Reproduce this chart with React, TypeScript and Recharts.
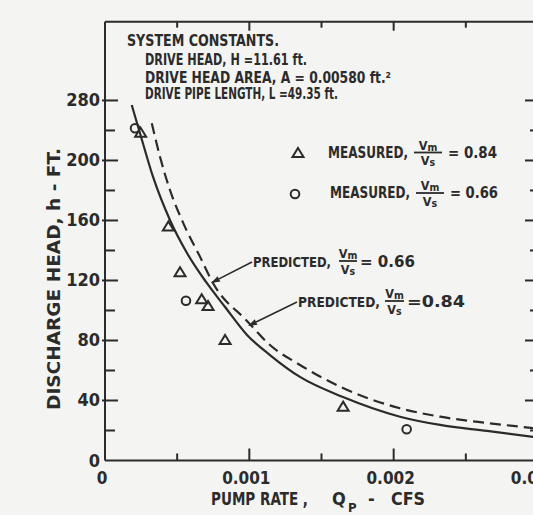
import React from "react";
import { ComposedChart, Line, Scatter, XAxis, YAxis } from "recharts";

// pump rate (cfs) and discharge head (ft)
const X_TICKS = [0, 0.0005, 0.001, 0.0015, 0.002, 0.0025, 0.003];
const X_TICK_LABELS = ["0", "", "0.001", "", "0.002", "", "0.003"];
const Y_TICKS = [0, 20, 40, 60, 80, 100, 120, 140, 160, 180, 200, 220, 240];
// the original figure prints "280" on the top major tick
const Y_TICK_LABELS = ["0", "", "40", "", "80", "", "120", "", "160", "", "200", "", "280"];

const SOLID_Q = [0.000185, 0.000243, 0.000333, 0.00045, 0.000568, 0.0007, 0.000832, 0.000984, 0.001143, 0.001351, 0.001649, 0.002044, 0.002322, 0.002647, 0.003];
const SOLID_H = [237, 218, 189, 160.3, 138.3, 119, 102.3, 83.7, 70.3, 55.7, 42.3, 29.2, 23.7, 19.7, 15.3];

const DASHED_Q = [0.000324, 0.000381, 0.00045, 0.000543, 0.000658, 0.00075, 0.000984, 0.001143, 0.001351, 0.001649, 0.002044, 0.002322, 0.002647, 0.003];
const DASHED_H = [224.8, 202.5, 180.3, 158.1, 135.9, 118, 93, 77, 63.7, 48.3, 34.8, 29.2, 25, 21.3];

const TRI_Q = [0.000247, 0.000439, 0.00052, 0.00067, 0.000714, 0.000832, 0.00165];
const TRI_H = [218.5, 156, 125.5, 107.5, 103, 80.3, 35.9];

const CIRC_Q = [0.000208, 0.000561, 0.00209];
const CIRC_H = [221.5, 106.5, 20.8];

const zip = (q: number[], h: number[]) => q.map((v, i) => ({ q: v, h: h[i] }));
const solidData = zip(SOLID_Q, SOLID_H);
const dashedData = zip(DASHED_Q, DASHED_H);
const triData = zip(TRI_Q, TRI_H);
const circData = zip(CIRC_Q, CIRC_H);

const INK = "#2b2b2b";
const FONT = "'DejaVu Sans Condensed', 'DejaVu Sans', sans-serif";

function BottomTick({ x, y, payload }: any) {
  const i = X_TICKS.indexOf(payload.value);
  const label = X_TICK_LABELS[i];
  const len = label ? 12 : 7;
  return (
    <g>
      {i > 0 && <line x1={x} x2={x} y1={y} y2={y - len} stroke={INK} strokeWidth={2} />}
      {label && (
        <text x={x - 3} y={y + 23} textAnchor="middle" fontSize={17} fontWeight="bold" fill={INK} fontFamily={FONT}>
          {label}
        </text>
      )}
    </g>
  );
}

function TopTick({ x, y, payload }: any) {
  const i = X_TICKS.indexOf(payload.value);
  if (i <= 0) return null;
  const len = X_TICK_LABELS[i] ? 9 : 6;
  return <line x1={x} x2={x} y1={y} y2={y + len} stroke={INK} strokeWidth={2} />;
}

function LeftTick({ x, y, payload }: any) {
  const i = Y_TICKS.indexOf(payload.value);
  const label = Y_TICK_LABELS[i];
  return (
    <g>
      {i > 0 && (label
        ? <line x1={x - 3} x2={x + 13} y1={y} y2={y} stroke={INK} strokeWidth={2} />
        : <line x1={x} x2={x + 10} y1={y} y2={y} stroke={INK} strokeWidth={2} />)}
      {label && (
        <text x={x - 5} y={y + 6} textAnchor="end" fontSize={18} fontWeight="bold" fill={INK} fontFamily={FONT}>
          {label}
        </text>
      )}
    </g>
  );
}

function RightTick({ x, y, payload }: any) {
  const i = Y_TICKS.indexOf(payload.value);
  if (i <= 0) return null;
  const len = Y_TICK_LABELS[i] ? 13 : 8;
  return <line x1={x} x2={x - len} y1={y} y2={y} stroke={INK} strokeWidth={2} />;
}

const triangleShape = ({ cx, cy }: any) => (
  <path d={`M${cx},${cy - 5} L${cx + 5.5},${cy + 4} L${cx - 5.5},${cy + 4} Z`} fill="none" stroke={INK} strokeWidth={2} />
);
const circleShape = ({ cx, cy }: any) => (
  <circle cx={cx} cy={cy} r={4.3} fill="none" stroke={INK} strokeWidth={2} />
);

function Fraction({ x, y, w, top, bottom }: { x: number; y: number; w: number; top: string; bottom: string }) {
  const cx = x + w / 2;
  return (
    <g fontFamily={FONT} fill={INK} fontWeight="bold">
      <text x={cx} y={y - 3} textAnchor="middle" fontSize={12.5}>
        V<tspan fontSize={10.5} dy={1}>{top}</tspan>
      </text>
      <line x1={x} x2={x + w} y1={y} y2={y} stroke={INK} strokeWidth={1.8} />
      <text x={cx} y={y + 12.5} textAnchor="middle" fontSize={12.5}>
        V<tspan fontSize={10.5} dy={1}>{bottom}</tspan>
      </text>
    </g>
  );
}

function Arrow({ x1, y1, x2, y2 }: { x1: number; y1: number; x2: number; y2: number }) {
  const a = Math.atan2(y2 - y1, x2 - x1);
  const L = 9;
  const W = 3;
  const bx = x2 - L * Math.cos(a);
  const by = y2 - L * Math.sin(a);
  const px = -Math.sin(a) * W;
  const py = Math.cos(a) * W;
  return (
    <g>
      <line x1={x1} y1={y1} x2={bx} y2={by} stroke={INK} strokeWidth={1.6} />
      <path d={`M${x2},${y2} L${bx + px},${by + py} L${bx - px},${by - py} Z`} fill={INK} />
    </g>
  );
}

function Overlay() {
  const txt = { fontFamily: FONT, fill: INK, fontWeight: "bold" as const };
  return (
    <svg width={533} height={515} style={{ position: "absolute", left: 0, top: 0, pointerEvents: "none" }}>
      <g {...txt} fontSize={15}>
        <text x={127} y={45.7} textLength={152} lengthAdjust="spacingAndGlyphs">SYSTEM CONSTANTS.</text>
        <text x={145} y={65} textLength={162} lengthAdjust="spacingAndGlyphs">DRIVE HEAD,  H =11.61 ft.</text>
        <text x={145} y={82.7} textLength={246} lengthAdjust="spacingAndGlyphs">DRIVE HEAD AREA, A = 0.00580 ft.²</text>
        <text x={145} y={99.3} textLength={193} lengthAdjust="spacingAndGlyphs">DRIVE PIPE LENGTH,  L =49.35 ft.</text>
      </g>

      <g {...txt} fontSize={15}>
        <path d="M298,148 L303.5,157 L292.5,157 Z" fill="none" stroke={INK} strokeWidth={2} />
        <text x={328} y={157.5} textLength={80} lengthAdjust="spacingAndGlyphs">MEASURED,</text>
        <text x={448} y={157.5} textLength={49} lengthAdjust="spacingAndGlyphs">= 0.84</text>
        <circle cx={295} cy={194} r={4.3} fill="none" stroke={INK} strokeWidth={2} />
        <text x={330} y={198.3} textLength={80} lengthAdjust="spacingAndGlyphs">MEASURED,</text>
        <text x={450} y={198.3} textLength={48} lengthAdjust="spacingAndGlyphs">= 0.66</text>

        <text x={253} y={266.7} fontSize={14} textLength={78} lengthAdjust="spacingAndGlyphs">PREDICTED,</text>
        <text x={360} y={266.7} textLength={55} lengthAdjust="spacingAndGlyphs">= 0.66</text>
        <text x={298} y={306.7} fontSize={14} textLength={82} lengthAdjust="spacingAndGlyphs">PREDICTED,</text>
        <text x={407} y={306.7} textLength={58} lengthAdjust="spacingAndGlyphs">=0.84</text>
      </g>
      <Fraction x={414} y={152.5} w={28} top="m" bottom="s" />
      <Fraction x={416} y={193} w={28} top="m" bottom="s" />
      <Fraction x={339} y={261} w={18} top="m" bottom="s" />
      <Fraction x={385} y={301} w={19} top="m" bottom="s" />

      <Arrow x1={252} y1={262} x2={211} y2={283} />
      <Arrow x1={297} y1={302} x2={248} y2={326} />

      <g {...txt} fontSize={18}>
        <text transform="translate(60,279) rotate(-90)" x={0} y={0} textAnchor="middle" textLength={262} lengthAdjust="spacingAndGlyphs">
          DISCHARGE HEAD,  h  -  FT.
        </text>
        <text x={211} y={505} textLength={97} lengthAdjust="spacingAndGlyphs">PUMP RATE ,</text>
        <text x={332} y={505}>Q</text>
        <text x={348} y={512} fontSize={13}>P</text>
        <text x={368} y={505}>-</text>
        <text x={391} y={505} textLength={34} lengthAdjust="spacingAndGlyphs">CFS</text>
      </g>
    </svg>
  );
}

export default function App() {
  return (
    <div style={{ position: "relative", width: 533, height: 515, overflow: "hidden", background: "#f4f4f2" }}>
      <style>{"body{margin:0;overflow:hidden}"}</style>
      <ComposedChart width={560} height={515} margin={{ top: 20.7, right: 21, bottom: 24.5, left: 45 }}>
        <XAxis
          xAxisId="b"
          type="number"
          dataKey="q"
          domain={[0, 0.003]}
          ticks={X_TICKS}
          allowDataOverflow
          height={30}
          tickSize={0}
          tickMargin={0}
          tickLine={false}
          axisLine={{ stroke: INK, strokeWidth: 2 }}
          tick={<BottomTick />}
          interval={0}
        />
        <XAxis
          xAxisId="t"
          orientation="top"
          type="number"
          dataKey="q"
          domain={[0, 0.003]}
          ticks={X_TICKS}
          allowDataOverflow
          height={1}
          tickSize={0}
          tickMargin={0}
          tickLine={false}
          axisLine={{ stroke: INK, strokeWidth: 2 }}
          tick={<TopTick />}
          interval={0}
        />
        <YAxis
          yAxisId="l"
          type="number"
          dataKey="h"
          domain={[0, 292.5]}
          ticks={Y_TICKS}
          allowDataOverflow
          width={60}
          tickSize={0}
          tickMargin={0}
          tickLine={false}
          axisLine={{ stroke: INK, strokeWidth: 2 }}
          tick={<LeftTick />}
          interval={0}
        />
        <YAxis
          yAxisId="r"
          orientation="right"
          type="number"
          dataKey="h"
          domain={[0, 292.5]}
          ticks={Y_TICKS}
          allowDataOverflow
          width={1}
          tickSize={0}
          tickMargin={0}
          tickLine={false}
          axisLine={{ stroke: INK, strokeWidth: 2 }}
          tick={<RightTick />}
          interval={0}
        />
        <Line xAxisId="b" yAxisId="l" data={solidData} dataKey="h" type="monotone" stroke={INK} strokeWidth={2.2} dot={false} isAnimationActive={false} />
        <Line xAxisId="b" yAxisId="l" data={dashedData} dataKey="h" type="monotone" stroke={INK} strokeWidth={2.2} strokeDasharray="11 6" dot={false} isAnimationActive={false} />
        <Scatter xAxisId="b" yAxisId="l" data={triData} dataKey="h" shape={triangleShape} isAnimationActive={false} />
        <Scatter xAxisId="b" yAxisId="l" data={circData} dataKey="h" shape={circleShape} isAnimationActive={false} />
      </ComposedChart>
      <Overlay />
    </div>
  );
}
